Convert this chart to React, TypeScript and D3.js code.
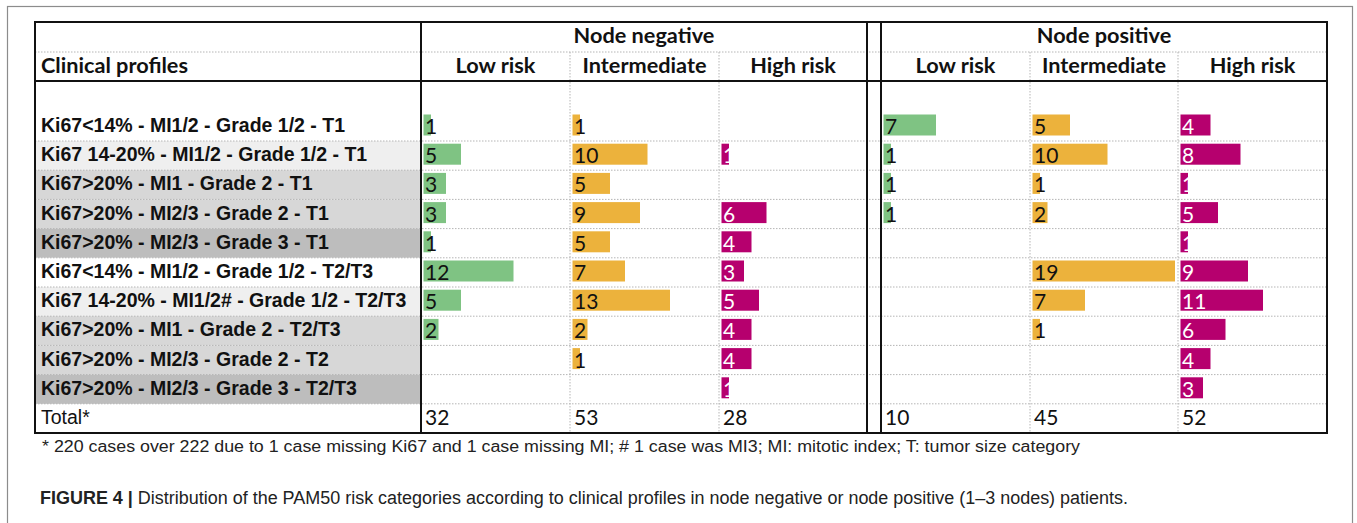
import React from "react";
import * as d3 from "d3";

const profiles = [
  "Ki67<14% - MI1/2 - Grade 1/2 - T1",
  "Ki67 14-20% - MI1/2 - Grade 1/2 - T1",
  "Ki67>20% - MI1 - Grade 2 - T1",
  "Ki67>20% - MI2/3 - Grade 2 - T1",
  "Ki67>20% - MI2/3 - Grade 3 - T1",
  "Ki67<14% - MI1/2 - Grade 1/2 - T2/T3",
  "Ki67 14-20% - MI1/2# - Grade 1/2 - T2/T3",
  "Ki67>20% - MI1 - Grade 2 - T2/T3",
  "Ki67>20% - MI2/3 - Grade 2 - T2",
  "Ki67>20% - MI2/3 - Grade 3 - T2/T3",
];
const profileShade = [0, 1, 2, 2, 3, 0, 1, 2, 2, 3];

const groups = ["Node negative", "Node positive"];
const riskCats = ["Low risk", "Intermediate", "High risk"];

const negLow = [1, 5, 3, 3, 1, 12, 5, 2, null, null];
const negInt = [1, 10, 5, 9, 5, 7, 13, 2, 1, null];
const negHigh = [null, 1, null, 6, 4, 3, 5, 4, 4, 1];
const posLow = [7, 1, 1, 1, null, null, null, null, null, null];
const posInt = [5, 10, 1, 2, null, 19, 7, 1, null, null];
const posHigh = [4, 8, 1, 5, 1, 9, 11, 6, 4, 3];

const totals = [32, 53, 28, 10, 45, 52];

const footnote =
  "* 220 cases over 222 due to 1 case missing Ki67 and 1 case missing MI; # 1 case was MI3; MI: mitotic index; T: tumor size category";
const captionBold = "FIGURE 4 |";
const captionText =
  " Distribution of the PAM50 risk categories according to clinical profiles in node negative or node positive (1–3 nodes) patients.";

const riskColors = ["#7fc383", "#ecb23c", "#b6006e"];
const riskText = ["#111", "#111", "#ffffff"];
const shadeColors = ["#ffffff", "#efefef", "#d7d7d7", "#bdbdbd"];

const W = 1357;
const H = 523;
const tableLeft = 35;
const tableRight = 1327;
const tableTop = 22;
const hdrMid = 52;
const hdrBottom = 81;
const firstRowBottom = 141;
const tableBottom = 433;
const labelColRight = 421;
const negCols = [421, 570, 719, 867];
const posCols = [881, 1030, 1178, 1327];

const headFont = "Lato, 'Open Sans', sans-serif";
const labelFont = "'Liberation Sans', Arial, sans-serif";

export default function App() {
  const series = [negLow, negInt, negHigh, posLow, posInt, posHigh];
  const colEdges = [
    [negCols[0], negCols[1]],
    [negCols[1], negCols[2]],
    [negCols[2], negCols[3]],
    [posCols[0], posCols[1]],
    [posCols[1], posCols[2]],
    [posCols[2], posCols[3]],
  ];
  const maxVal = d3.max(series.flat().filter((v) => v != null) as number[]) as number;
  const xw = d3.scaleLinear().domain([0, maxVal]).range([0, maxVal * 7.5]);

  const rowKeys = d3.range(profiles.length + 1);
  const rowH = (tableBottom - firstRowBottom) / profiles.length;
  const y = d3
    .scaleBand<number>()
    .domain(rowKeys)
    .range([firstRowBottom - rowH, tableBottom])
    .paddingInner(0)
    .paddingOuter(0);
  const rowTop = (i: number) => (i === 0 ? hdrBottom : (y(i) as number));
  const rowBottom = (i: number) => (y(i) as number) + y.bandwidth();

  const dotted = { stroke: "#b5b5b5", strokeWidth: 1, strokeDasharray: "1.5,1.5" };

  return (
    <svg
      width={W}
      height={H}
      style={{ position: "absolute", left: 0, top: 0, background: "#fff" }}
    >
      <rect x={0} y={0} width={W} height={H} fill="#fff" />
      <rect x={7.5} y={6.5} width={1345} height={560} fill="none" stroke="#8c8c8c" strokeWidth={1.2} />

      {profiles.map((p, i) => (
        <rect
          key={"bg" + i}
          x={tableLeft}
          y={rowTop(i)}
          width={labelColRight - tableLeft}
          height={rowBottom(i) - rowTop(i)}
          fill={shadeColors[profileShade[i]]}
        />
      ))}

      <line x1={tableLeft} x2={tableRight} y1={hdrMid} y2={hdrMid} {...dotted} />
      {rowKeys.slice(0, -1).map((i) => (
        <line key={"h" + i} x1={tableLeft} x2={tableRight} y1={rowBottom(i)} y2={rowBottom(i)} {...dotted} />
      ))}
      {[negCols[1], negCols[2], posCols[1], posCols[2]].map((x, i) => (
        <line key={"v" + i} x1={x} x2={x} y1={hdrMid} y2={tableBottom} {...dotted} />
      ))}

      {series.map((vals, s) =>
        vals.map((v, i) =>
          v == null ? null : (
            <g key={"b" + s + "-" + i}>
              <rect
                x={colEdges[s][0] + 2.5}
                y={rowBottom(i) - 26.5}
                width={xw(v)}
                height={21}
                fill={riskColors[s % 3]}
              />
              <text
                x={colEdges[s][0] + 4}
                y={rowBottom(i) - 7}
                fontFamily={headFont}
                fontSize={21}
                fill={riskText[s % 3]}
              >
                {v}
              </text>
            </g>
          )
        )
      )}

      {totals.map((t, s) => (
        <text
          key={"t" + s}
          x={colEdges[s][0] + 4}
          y={tableBottom - 8}
          fontFamily={headFont}
          fontSize={21}
          fill="#111"
        >
          {t}
        </text>
      ))}

      {profiles.map((p, i) => (
        <text
          key={"l" + i}
          x={tableLeft + 6}
          y={rowBottom(i) - 9}
          fontFamily={labelFont}
          fontWeight="bold"
          fontSize={19.5}
          fill="#111"
        >
          {p}
        </text>
      ))}
      <text
        x={tableLeft + 6}
        y={tableBottom - 9}
        fontFamily={labelFont}
        fontSize={19.5}
        fill="#111"
      >
        Total*
      </text>

      <text x={tableLeft + 6} y={73} fontFamily={headFont} fontWeight="bold" fontSize={21.7} fill="#111">
        Clinical profiles
      </text>
      {groups.map((g, gi) => {
        const cols = gi === 0 ? negCols : posCols;
        return (
          <g key={"g" + g}>
            <text
              x={(cols[0] + cols[3]) / 2}
              y={43}
              textAnchor="middle"
              fontFamily={headFont}
              fontWeight="bold"
              fontSize={21.7}
              fill="#111"
            >
              {g}
            </text>
            {riskCats.map((r, ri) => (
              <text
                key={r}
                x={(cols[ri] + cols[ri + 1]) / 2}
                y={73}
                textAnchor="middle"
                fontFamily={headFont}
                fontWeight="bold"
                fontSize={21.7}
                fill="#111"
              >
                {r}
              </text>
            ))}
          </g>
        );
      })}

      <rect
        x={tableLeft}
        y={tableTop}
        width={tableRight - tableLeft}
        height={tableBottom - tableTop}
        fill="none"
        stroke="#111"
        strokeWidth={2}
      />
      <line x1={tableLeft} x2={tableRight} y1={hdrBottom} y2={hdrBottom} stroke="#111" strokeWidth={2} />
      {[labelColRight, negCols[3], posCols[0]].map((x, i) => (
        <line key={"sv" + i} x1={x} x2={x} y1={tableTop} y2={tableBottom} stroke="#111" strokeWidth={2} />
      ))}

      <text
        x={42}
        y={452}
        fontFamily={labelFont}
        fontSize={16}
        fill="#222"
        textLength={1038}
        lengthAdjust="spacingAndGlyphs"
      >
        {footnote}
      </text>
      <text
        x={40}
        y={504}
        fontFamily={labelFont}
        fontSize={18}
        fill="#222"
        textLength={1088}
        lengthAdjust="spacingAndGlyphs"
      >
        <tspan fontWeight="bold">{captionBold}</tspan>
        <tspan>{captionText}</tspan>
      </text>
    </svg>
  );
}
